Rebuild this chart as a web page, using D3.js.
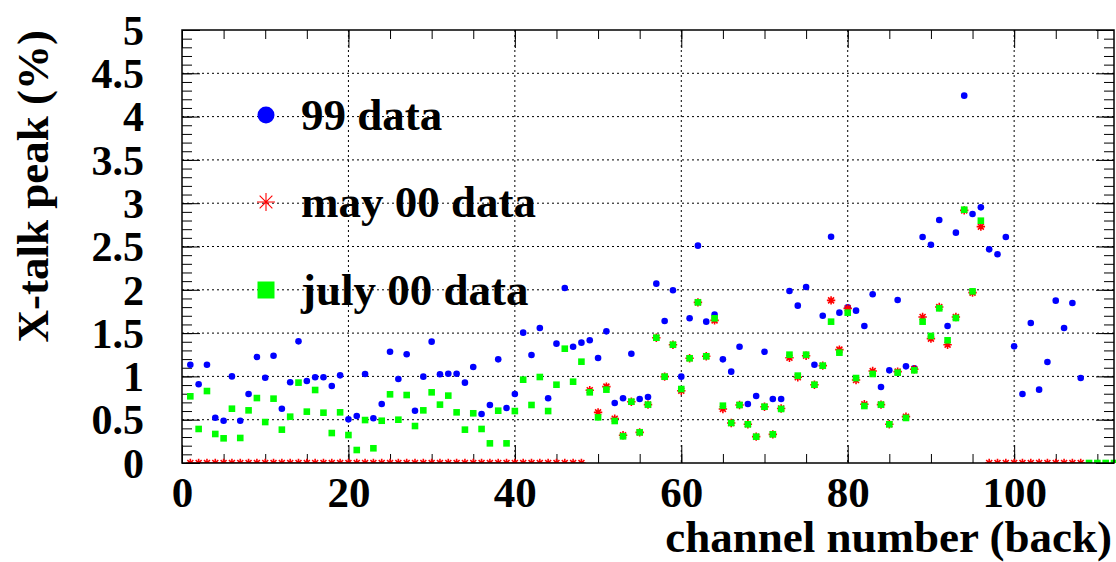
<!DOCTYPE html>
<html><head><meta charset="utf-8">
<script src="https://cdn.jsdelivr.net/npm/d3@7"></script>
<style>
html,body{margin:0;padding:0;background:#fff;}
svg{display:block;}
text{font-family:"Liberation Serif","Times New Roman",serif;font-weight:bold;fill:#000;}
</style></head>
<body>
<svg id="c" width="1116" height="562"></svg>
<script>
// ---- data (channel index = position + 1) ----
const data99 = [1.135,0.909,1.135,0.523,0.488,1.0,0.488,0.797,1.224,0.985,
1.239,0.627,0.932,1.405,0.947,0.99,0.99,0.889,1.012,0.504,
0.543,1.028,0.516,0.681,1.285,0.97,1.255,0.604,0.997,1.401,
1.024,1.031,1.031,0.928,1.109,0.566,0.67,1.197,0.635,0.797,
1.505,1.247,1.559,0.747,1.378,2.02,1.343,1.39,1.417,1.212,
1.52,0.693,0.747,1.262,0.739,0.762,2.071,1.64,1.994,0.997,
1.671,2.51,1.632,1.713,1.197,1.055,1.343,0.681,0.774,1.285,
0.739,0.739,1.986,1.817,2.032,1.135,1.701,2.613,1.736,1.798,
1.759,1.582,1.948,0.878,1.07,1.882,1.116,1.093,2.61,2.521,
2.806,1.582,2.66,4.242,2.875,2.952,2.467,2.41,2.61,1.347,
0.797,1.617,0.847,1.166,1.875,1.559,1.848,0.981];

const dataMay00 = [0,0,0,0,0,0,0,0,0,0, 0,0,0,0,0,0,0,0,0,0,
0,0,0,0,0,0,0,0,0,0, 0,0,0,0,0,0,0,0,0,0,
0,0,0,0,0,0,0,0,0.84,0.585,
0.882,0.512,0.32,0.708,0.354,0.674,1.447,0.997,1.366,0.835,
1.209,1.855,1.232,1.647,0.624,0.462,0.67,0.447,0.304,0.65,
0.331,0.63,1.216,0.99,1.239,0.904,1.124,1.878,1.309,1.786,
0.958,0.678,1.062,0.674,0.447,1.055,0.535,1.082,1.686,1.436,
1.801,1.366,1.686,2.917,1.967,2.729,0,0,0,0,
0,0,0,0,0,0,0,0];

const dataJul00 = [0.77,0.393,0.831,0.335,0.285,0.627,0.289,0.608,0.75,0.473,
0.743,0.385,0.535,0.928,0.593,0.843,0.581,0.346,0.585,0.323,
0.15,0.496,0.17,0.488,0.793,0.5,0.785,0.427,0.608,0.816,
0.674,0.778,0.585,0.385,0.574,0.393,0.227,0.604,0.227,0.6,
0.962,0.67,0.993,0.6,0.904,1.32,0.939,1.17,0.816,0.527,
0.847,0.485,0.308,0.708,0.354,0.674,1.447,0.997,1.366,0.854,
1.209,1.855,1.232,1.671,0.662,0.462,0.67,0.447,0.304,0.65,
0.331,0.624,1.251,1.009,1.251,0.904,1.124,1.632,1.274,1.736,
0.981,0.658,1.028,0.674,0.447,1.043,0.52,1.07,1.632,1.467,
1.786,1.417,1.674,2.925,1.982,2.798,null,null,null,null,
null,null,null,null,null,null,null,null,0,0,
0,0];

const xTickLabels = [0,20,40,60,80,100];
const yTickLabels = [0,0.5,1,1.5,2,2.5,3,3.5,4,4.5,5];
const legendLabels = ["99 data","may 00 data","july 00 data"];
const xTitle = "channel number (back)";
const yTitle = "X-talk peak (%)";

// ---- layout ----
const L = 182, R = 1114, T = 30, B = 463;
const svg = d3.select("#c");
const x = d3.scaleLinear().domain([0,112]).range([L,R]);
const y = d3.scaleLinear().domain([0,5]).range([B,T]);

const toPts = arr => arr.map((v,i)=>({ch:i+1,v:v})).filter(d=>d.v!==null);

svg.append("defs").append("clipPath").attr("id","frameClip")
  .append("rect").attr("x",L).attr("y",T).attr("width",R-L+2).attr("height",B-T);

// grid
const grid = svg.append("g").attr("stroke","#000").attr("stroke-width",1).attr("stroke-dasharray","2,3");
grid.selectAll("line.gx").data(xTickLabels.filter(v=>v>0)).join("line")
  .attr("x1",d=>x(d)).attr("x2",d=>x(d)).attr("y1",T).attr("y2",B);
grid.selectAll("line.gy").data(yTickLabels.filter(v=>v>0&&v<5)).join("line")
  .attr("x1",L).attr("x2",R).attr("y1",d=>y(d)).attr("y2",d=>y(d));

// axes ticks
const xMinor = d3.range(0,112.01,5);
const yMinor = d3.range(0,5.001,0.1);
function noLabels(g){g.selectAll("text").remove();g.select(".domain").remove();}
svg.append("g").attr("transform",`translate(0,${B})`).call(d3.axisBottom(x).tickValues(xMinor).tickSize(-9)).call(noLabels);
svg.append("g").attr("transform",`translate(0,${T})`).call(d3.axisTop(x).tickValues(xMinor).tickSize(-9)).call(noLabels);
svg.append("g").attr("transform",`translate(0,${T})`).call(d3.axisTop(x).tickValues(xTickLabels).tickSize(-18)).call(noLabels);
svg.append("g").attr("transform",`translate(${L},0)`).call(d3.axisLeft(y).tickValues(yMinor).tickSize(-10)).call(noLabels);
svg.append("g").attr("transform",`translate(${R},0)`).call(d3.axisRight(y).tickValues(yMinor).tickSize(-10)).call(noLabels);
svg.append("g").attr("transform",`translate(${L},0)`).call(d3.axisLeft(y).tickValues(yTickLabels).tickSize(-18)).call(noLabels);
svg.append("g").attr("transform",`translate(${R},0)`).call(d3.axisRight(y).tickValues(yTickLabels).tickSize(-18)).call(noLabels);

const xAx = svg.append("g").attr("transform",`translate(0,${B})`)
  .call(d3.axisBottom(x).tickValues(xTickLabels).tickSize(-18).tickFormat(d3.format("d")));
xAx.select(".domain").remove();
xAx.selectAll("text").attr("y",44).attr("dy",null).style("font-size","43px")
  .style("font-family",'"Liberation Serif",serif').style("font-weight","bold");

const yAx = svg.append("g").attr("transform",`translate(${L},0)`)
  .call(d3.axisLeft(y).tickValues(yTickLabels).tickSize(0).tickFormat(d=>String(d)));
yAx.select(".domain").remove();
yAx.selectAll("text").attr("x",-38).attr("dy","0.34em").style("font-size","42px")
  .style("font-family",'"Liberation Serif",serif').style("font-weight","bold");

svg.selectAll(".tick line").attr("stroke","#000").attr("stroke-width",1);

// markers
function asterisk(cx,cy,r){
  const d=r*0.7071;
  return `M${cx-r},${cy}L${cx+r},${cy}M${cx},${cy-r}L${cx},${cy+r}M${cx-d},${cy-d}L${cx+d},${cy+d}M${cx-d},${cy+d}L${cx+d},${cy-d}`;
}
const marks = svg.append("g").attr("clip-path","url(#frameClip)");
marks.append("g").selectAll("circle").data(toPts(data99)).join("circle")
  .attr("cx",d=>x(d.ch)).attr("cy",d=>y(d.v)).attr("r",3.3).attr("fill","#0000ff");
marks.append("g").selectAll("path").data(toPts(dataMay00)).join("path")
  .attr("d",d=>asterisk(x(d.ch),y(d.v),4.2)).attr("stroke","#ff0000").attr("stroke-width",1.6).attr("fill","none");
marks.append("g").selectAll("rect").data(toPts(dataJul00)).join("rect")
  .attr("x",d=>x(d.ch)-3.3).attr("y",d=>y(d.v)-3.3).attr("width",6.6).attr("height",6.6).attr("fill","#00ff00");

// frame
svg.append("rect").attr("x",L).attr("y",T).attr("width",R-L).attr("height",B-T)
  .attr("fill","none").attr("stroke","#000").attr("stroke-width",1.5);

// legend
const lg = svg.append("g");
const lx = 266, ly = [115,202,290];
lg.append("circle").attr("cx",lx).attr("cy",ly[0]).attr("r",8.5).attr("fill","#0000ff");
lg.append("path").attr("d",asterisk(lx,ly[1],9)).attr("stroke","#ff0000").attr("stroke-width",1.1).attr("fill","none");
lg.append("rect").attr("x",lx-8.5).attr("y",ly[2]-8.5).attr("width",17).attr("height",17).attr("fill","#00ff00");
lg.selectAll("text").data(legendLabels).join("text")
  .attr("x",301).attr("y",(d,i)=>ly[i]).attr("dy","0.34em").style("font-size","45px").text(d=>d);

// titles
svg.append("text").attr("x",1112).attr("y",552).attr("text-anchor","end").style("font-size","45px").text(xTitle);
svg.append("text").attr("transform","translate(48,30) rotate(-90)").attr("text-anchor","end").style("font-size","45px").text(yTitle);
</script>
</body></html>
